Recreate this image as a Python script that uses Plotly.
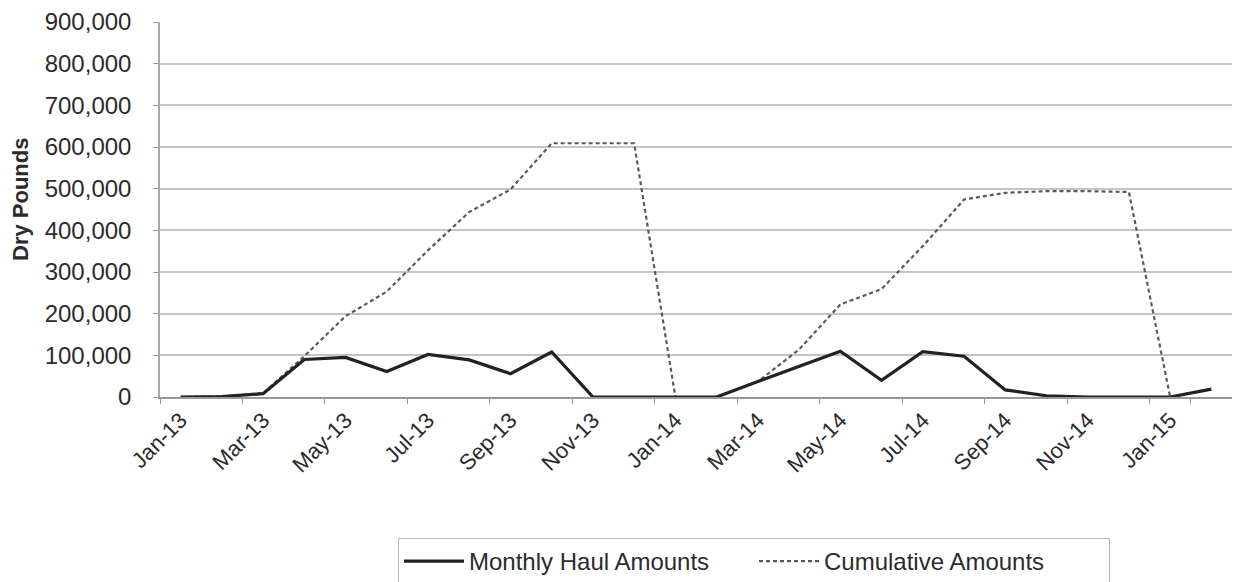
import plotly.graph_objects as go

months = ["Jan-13", "Feb-13", "Mar-13", "Apr-13", "May-13", "Jun-13", "Jul-13", "Aug-13",
          "Sep-13", "Oct-13", "Nov-13", "Dec-13", "Jan-14", "Feb-14", "Mar-14", "Apr-14",
          "May-14", "Jun-14", "Jul-14", "Aug-14", "Sep-14", "Oct-14", "Nov-14", "Dec-14",
          "Jan-15", "Feb-15"]

monthly_haul = [0, 1000, 8000, 90000, 95000, 61000, 102000, 89000, 56000, 108000, 0, 0,
                0, 0, 37000, 74000, 110000, 40000, 109000, 98000, 17000, 3000, 0, 0,
                0, 19000]

cumulative = [0, 1000, 9000, 98000, 194000, 253000, 352000, 444000, 498000, 609000, 609000, 609000,
              0, 0, 37000, 114000, 222000, 259000, 362000, 474000, 490000, 494000, 494000, 492000,
              0, 19000]

tick_labels = months[::2]
y_ticks = list(range(0, 900001, 100000))

FONT = "Liberation Sans, Arial, sans-serif"

fig = go.Figure()
fig.add_trace(go.Scatter(
    x=months, y=cumulative, mode="lines", name="Cumulative Amounts",
    line=dict(color="#5a5a5a", width=2.2, dash="4px,3px"),
))
fig.add_trace(go.Scatter(
    x=months, y=monthly_haul, mode="lines", name="Monthly Haul Amounts",
    line=dict(color="#222222", width=3.2),
))

fig.update_layout(
    width=1234, height=582,
    margin=dict(l=160, r=2, t=22, b=185),
    paper_bgcolor="white", plot_bgcolor="white",
    font=dict(family=FONT, size=22, color="#2b2b2b"),
    showlegend=True,
    legend=dict(
        orientation="h", traceorder="reversed",
        x=(398 - 160) / 1072, xanchor="left",
        yref="container", y=(582 - 538) / 582, yanchor="top",
        bordercolor="#b8b8b8", borderwidth=1,
        font=dict(family=FONT, size=24, color="#2b2b2b"),
        entrywidth=280, itemwidth=60,
    ),
    xaxis=dict(
        type="category", range=[-0.5, 25.5],
        tickmode="array", tickvals=tick_labels, ticktext=tick_labels,
        tickangle=-45, tickson="boundaries", ticks="outside", ticklen=5,
        tickcolor="#999999", showline=True, linecolor="#999999", linewidth=1.5,
        showgrid=False, tickfont=dict(family=FONT, size=22, color="#2b2b2b"),
    ),
    yaxis=dict(
        range=[0, 900000], tickvals=y_ticks, tickformat=",", ticks="outside",
        ticklen=5, tickcolor="#999999", showline=True, linecolor="#aaaaaa", linewidth=1.5,
        showgrid=True, gridcolor="#c4c4c4", gridwidth=1.5, zeroline=False,
        ticklabelstandoff=17, tickfont=dict(family=FONT, size=24, color="#2b2b2b"),
    ),
    annotations=[dict(
        text="<b>Dry Pounds</b>", textangle=-90, showarrow=False,
        xref="paper", yref="paper",
        x=(20 - 160) / 1072, y=(397 - 200) / 375, xanchor="center", yanchor="middle",
        font=dict(family=FONT, size=22, color="#2b2b2b"),
    )],
)

fig.write_html("out.html", config={"displayModeBar": False},
               post_script="document.body.style.margin='0px';")
